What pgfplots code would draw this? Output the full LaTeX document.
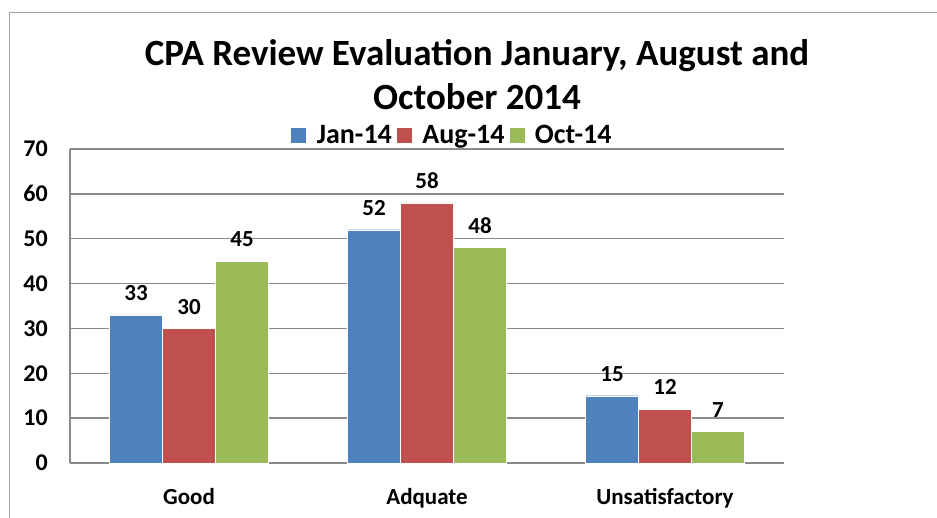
\documentclass[border=0pt]{standalone}
\usepackage{pgfplots}
\pgfplotsset{compat=1.18}
\usepackage{fontspec}
\setmainfont{Carlito}
\definecolor{cblue}{HTML}{4F81BD}
\definecolor{cred}{HTML}{C0504D}
\definecolor{cgreen}{HTML}{9BBB59}
\definecolor{cgrid}{HTML}{8A8A8A}
\begin{document}
\begin{tikzpicture}
\path[use as bounding box] (0,0) rectangle (937pt,518pt);
\draw[cgrid!80, line width=1pt] (9pt,0pt) -- (9pt,505pt) -- (937pt,505pt);
\node[align=center, font=\fontsize{37}{44}\selectfont\bfseries, inner sep=0pt] at (477pt,443pt) {CPA Review Evaluation January, August and\\October 2014};
\begin{axis}[
  at={(70pt,55pt)}, anchor=south west,
  scale only axis, width=714pt, height=314pt,
  ybar=0pt, bar width=53pt,
  xmin=-0.5, xmax=2.5, ymin=0, ymax=70,
  xtick={0,1,2}, xticklabels={Good,Adquate,Unsatisfactory},
  ytick={0,10,...,70},
  axis x line=bottom, axis y line=left,
  axis line style={-, cgrid, line width=1.5pt},
  ymajorgrids, major grid style={cgrid, line width=1.5pt},
  major tick length=0pt,
  /pgf/number format/assume math mode=true,
  ticklabel style={font=\fontsize{24}{28}\selectfont\bfseries, inner sep=0pt},
  xticklabel style={font=\fontsize{23}{27}\selectfont\bfseries},
  yticklabel shift=22pt, xticklabel shift=25pt,
  nodes near coords,
  every node near coord/.append style={font=\fontsize{23}{26}\selectfont\bfseries, inner sep=0pt, yshift=14pt, black},
  legend columns=3,
  legend style={draw=none, fill=none, at={(0.535,1.045)}, anchor=center,
    font=\fontsize{28}{30}\selectfont\bfseries,
    /tikz/every odd column/.append style={column sep=8pt},
    /tikz/every even column/.append style={column sep=2pt}},
  legend image code/.code={\fill[#1] (0pt,-8pt) rectangle (16pt,8pt);},
  clip=false,
]
\addplot[fill=cblue, draw=white, line width=0.4pt] coordinates {(0,33) (1,52) (2,15)};
\addplot[fill=cred, draw=white, line width=0.4pt] coordinates {(0,30) (1,58) (2,12)};
\addplot[fill=cgreen, draw=white, line width=0.4pt] coordinates {(0,45) (1,48) (2,7)};
\legend{Jan-14,Aug-14,Oct-14}
\end{axis}
\end{tikzpicture}
\end{document}
